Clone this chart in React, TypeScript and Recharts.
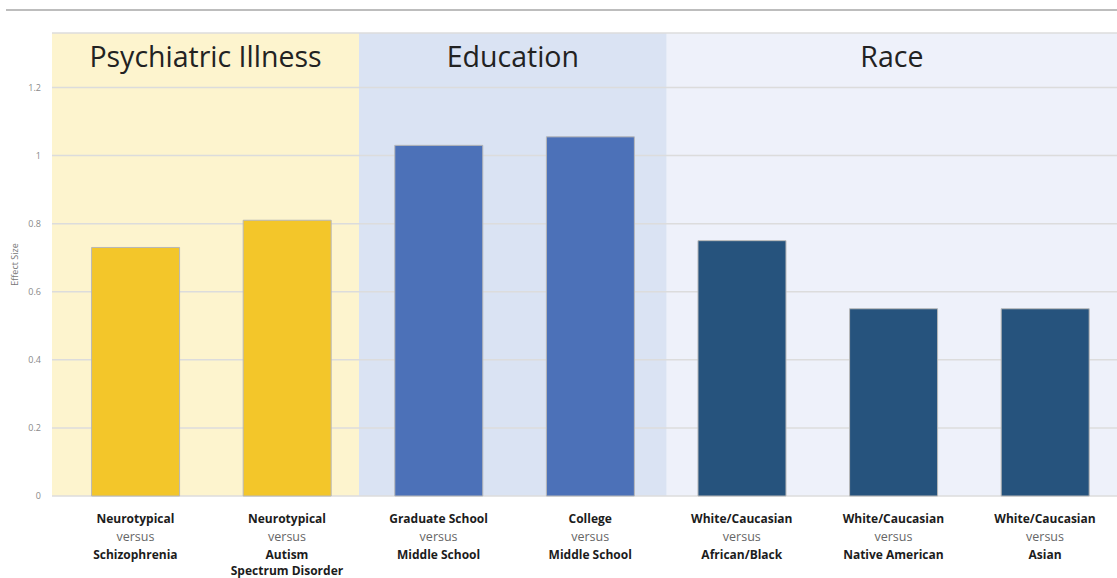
import {
  Bar,
  BarChart,
  CartesianGrid,
  Cell,
  ReferenceArea,
  XAxis,
  YAxis,
} from "recharts";

// comparisons, left to right
const topLines = [
  "Neurotypical",
  "Neurotypical",
  "Graduate School",
  "College",
  "White/Caucasian",
  "White/Caucasian",
  "White/Caucasian",
];
const bottomLines = [
  "Schizophrenia",
  "Autism\nSpectrum Disorder",
  "Middle School",
  "Middle School",
  "African/Black",
  "Native American",
  "Asian",
];
const groupOf = ["psych", "psych", "edu", "edu", "race", "race", "race"];
const effectSize = [0.73, 0.81, 1.03, 1.055, 0.75, 0.55, 0.55];
const yTicks = [0, 0.2, 0.4, 0.6, 0.8, 1, 1.2];

// group bands along the x axis (in category index units)
const groupNames = ["Psychiatric Illness", "Education", "Race"];
const groupStart = [-0.55, 1.475, 3.505];
const groupEnd = [1.475, 3.505, 6.475];

const barColor: Record<string, string> = {
  psych: "#f3c62a",
  edu: "#4c71b8",
  race: "#26537d",
};
const bandColor = ["#fdf4ce", "#dae3f3", "#eef1fa"];

const data = effectSize.map((v, i) => ({ idx: i, value: v, group: groupOf[i] }));

const FONT = "'Open Sans', Lato, sans-serif";

function CategoryTick(props: any) {
  const { x, y, payload } = props;
  const i = payload.value as number;
  const lower = bottomLines[i].split("\n");
  return (
    <g transform={`translate(${x},${y})`} fontFamily={FONT} textAnchor="middle">
      <text x={0} y={26.5} fontSize={12} fontWeight={700} fill="#1c1c1c">
        {topLines[i]}
      </text>
      <text x={0} y={45} fontSize={12.5} fill="#666">
        versus
      </text>
      {lower.map((s, k) => (
        <text key={k} x={0} y={63 + k * 16} fontSize={12} fontWeight={700} fill="#1c1c1c">
          {s}
        </text>
      ))}
    </g>
  );
}

export default function App() {
  return (
    <div
      style={{
        position: "absolute",
        left: 0,
        top: 0,
        width: 1117,
        height: 578,
        overflow: "hidden",
        background: "#fff",
      }}
    >
      <div
        style={{
          position: "absolute",
          left: 6,
          right: 0,
          top: 9,
          height: 0,
          borderTop: "2px solid #bdbdbd",
        }}
      />
      <BarChart
        width={1117}
        height={578}
        data={data}
        margin={{ top: 33, right: 0, bottom: 0, left: 0 }}
      >
        {groupNames.map((name, g) => (
          <ReferenceArea
            key={name}
            x1={groupStart[g]}
            x2={groupEnd[g]}
            y1={0}
            y2={1.36}
            fill={bandColor[g]}
            fillOpacity={1}
            stroke="none"
            zIndex={-150}
            label={{
              value: name,
              position: "insideTop",
              offset: 14,
              fontSize: 28.5,
              fill: "#222",
              fontFamily: FONT,
            }}
          />
        ))}
        <CartesianGrid stroke="#dcdcdc" strokeWidth={1.5} vertical={false} />
        <XAxis
          dataKey="idx"
          type="number"
          domain={[-0.55, 6.475]}
          ticks={[0, 1, 2, 3, 4, 5, 6]}
          interval={0}
          height={82}
          tickLine={false}
          axisLine={false}
          tickSize={0}
          tickMargin={0}
          tick={<CategoryTick />}
        />
        <YAxis
          width={52}
          domain={[0, 1.36]}
          ticks={yTicks}
          tickLine={false}
          axisLine={false}
          tickMargin={5}
          tick={{ fontSize: 9, fill: "#888", fontFamily: FONT }}
          tickFormatter={(v: number) => String(v)}
          label={{
            value: "Effect Size",
            angle: -90,
            position: "center",
            dx: -11,
            fontSize: 9,
            fill: "#777",
            fontFamily: FONT,
          }}
        />
        <Bar
          dataKey="value"
          barSize={88}
          stroke="#b8b8b8"
          strokeWidth={1}
          isAnimationActive={false}
        >
          {data.map((d) => (
            <Cell key={d.idx} fill={barColor[d.group]} />
          ))}
        </Bar>
      </BarChart>
    </div>
  );
}
